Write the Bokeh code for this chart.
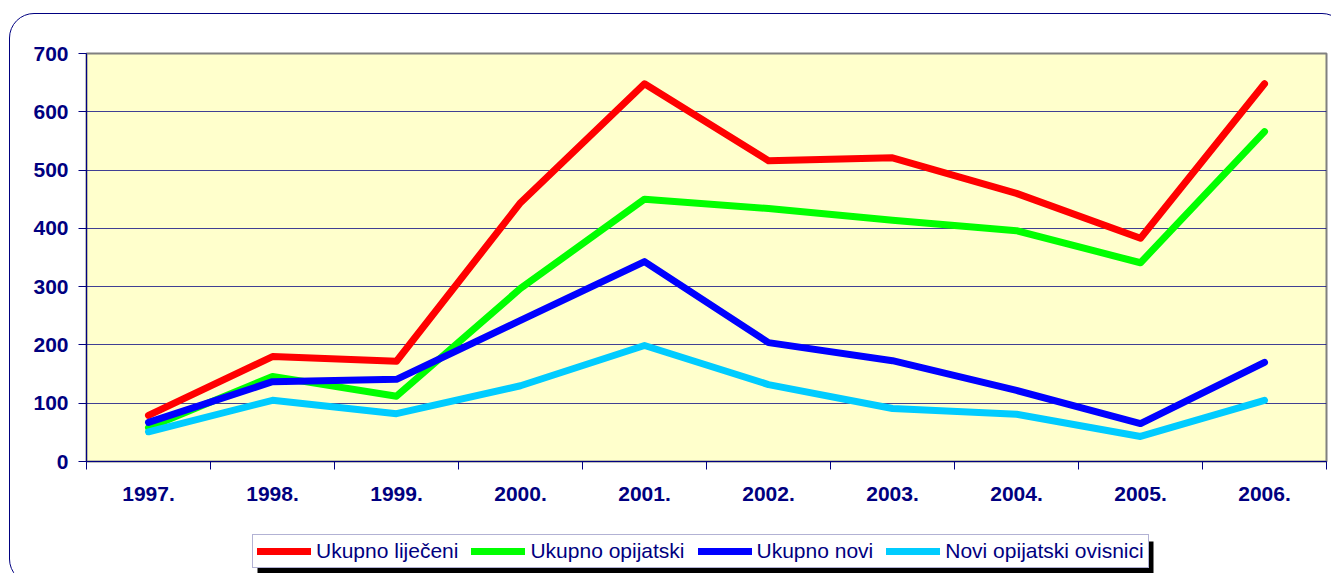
from bokeh.plotting import figure
from bokeh.models import (Range1d, FixedTicker, SingleIntervalTicker, Legend, LegendItem,
                          BoxAnnotation, ColumnDataSource, InlineStyleSheet)
from bokeh.layouts import column
from bokeh.embed import file_html
from bokeh.resources import INLINE

categories = ["1997.", "1998.", "1999.", "2000.", "2001.", "2002.", "2003.", "2004.", "2005.", "2006."]
ukupno_lijeceni = [79, 180, 172, 444, 648, 516, 521, 460, 383, 648]
ukupno_opijatski = [58, 146, 112, 297, 450, 434, 414, 396, 341, 566]
ukupno_novi = [67, 137, 141, 242, 343, 204, 173, 122, 65, 170]
novi_opijatski = [51, 105, 82, 130, 199, 132, 91, 81, 43, 105]

series = [
    ("Ukupno liječeni", ukupno_lijeceni, "#FF0000"),
    ("Ukupno opijatski", ukupno_opijatski, "#00FF00"),
    ("Ukupno novi", ukupno_novi, "#0000FF"),
    ("Novi opijatski ovisnici", novi_opijatski, "#00CCFF"),
]

NAVY = "#000080"
FONT = "Liberation Sans"
W = 1331
H_TOP = 522
H_BOT = 51
LINE_W = 7
FRAME_L, FRAME_R = 86, 1326

xs = [i + 0.5 for i in range(len(categories))]

p = figure(width=W, height=H_TOP, output_backend="svg", toolbar_location=None,
           x_range=Range1d(0, len(categories)), y_range=Range1d(0, 700),
           min_border_left=FRAME_L, min_border_right=W - FRAME_R,
           min_border_top=53, min_border_bottom=61)
p.background_fill_color = "#FFFFCC"
p.border_fill_color = "white"
p.outline_line_color = "#808080"
p.outline_line_width = 2

xa = p.xaxis[0]
xa.ticker = FixedTicker(ticks=xs, minor_ticks=list(range(len(categories) + 1)))
xa.major_label_overrides = {x: c for x, c in zip(xs, categories)}
xa.major_tick_out = 0
xa.major_tick_in = 0
xa.minor_tick_out = 8
xa.minor_tick_in = 0
xa.minor_tick_line_color = NAVY
xa.axis_line_color = NAVY
xa.major_label_text_color = NAVY
xa.major_label_text_font = FONT
xa.major_label_text_font_style = "bold"
xa.major_label_text_font_size = "21px"
xa.major_label_standoff = 17

ya = p.yaxis[0]
ya.ticker = SingleIntervalTicker(interval=100)
ya.major_tick_out = 8
ya.major_tick_in = 0
ya.minor_tick_out = 0
ya.minor_tick_in = 0
ya.major_tick_line_color = NAVY
ya.axis_line_color = NAVY
ya.major_label_text_color = NAVY
ya.major_label_text_font = FONT
ya.major_label_text_font_style = "bold"
ya.major_label_text_font_size = "21px"
ya.major_label_standoff = 10

p.xgrid.visible = False
p.ygrid.grid_line_color = NAVY
p.ygrid.grid_line_alpha = 0.75
p.ygrid.grid_line_width = 1
p.ygrid.ticker = SingleIntervalTicker(interval=100)

for name, vals, color in series:
    src = ColumnDataSource(dict(x=xs, y=vals))
    p.line("x", "y", source=src, line_color=color, line_width=LINE_W,
           line_cap="round", line_join="round")

# legend strip: its frame is aligned with the chart frame (x: 86..1326 px),
# ranges chosen so 1 data unit = 1 page pixel
q = figure(width=W, height=H_BOT, output_backend="svg", toolbar_location=None,
           x_range=Range1d(FRAME_L, FRAME_R), y_range=Range1d(H_TOP + H_BOT, H_TOP),
           x_axis_location=None, y_axis_location=None,
           min_border_left=0, min_border_right=0, min_border_top=0, min_border_bottom=0)
q.grid.visible = False
q.outline_line_color = None
q.background_fill_color = "white"
q.border_fill_color = "white"

LEG_LEFT = 252
LEG_BOTTOM_GAP = 5
PAD = 4
GLYPH_W = 54
STANDOFF = 5
SPACING = 13
LEG_W_EST = 896
LEG_H_EST = 33
SHADOW_DX = 5
SHADOW_DY = 6

leg_bottom = H_TOP + H_BOT - LEG_BOTTOM_GAP
shadow = BoxAnnotation(left=LEG_LEFT + SHADOW_DX, right=LEG_LEFT + LEG_W_EST + SHADOW_DX,
                       top=leg_bottom - LEG_H_EST + SHADOW_DY, bottom=leg_bottom + SHADOW_DY,
                       fill_color="black", fill_alpha=1, line_color=None)
q.add_layout(shadow)

items = []
for name, vals, color in series:
    r = q.line(x=xs, y=vals, line_color=color, line_width=LINE_W, line_cap="round",
               visible=False)
    items.append(LegendItem(label=name, renderers=[r]))

legend = Legend(items=items, orientation="horizontal",
                location=(LEG_LEFT - FRAME_L, LEG_BOTTOM_GAP),
                glyph_width=GLYPH_W, glyph_height=20, label_standoff=STANDOFF, spacing=SPACING,
                padding=PAD, margin=0,
                label_text_font=FONT, label_text_font_size="21px", label_text_color=NAVY,
                border_line_color="#6666AA", border_line_width=1.5,
                background_fill_color="white", background_fill_alpha=1)
q.add_layout(legend, "center")

css = InlineStyleSheet(css="""
:host { position: relative; overflow: hidden; }
:host::after {
  content: ""; position: absolute; left: 9px; top: 13px;
  width: 1338px; height: 571px; box-sizing: border-box;
  border: 1.5px solid #000080; border-radius: 25px;
  pointer-events: none; z-index: 100; background: transparent;
}
""")

layout = column(p, q, spacing=0, stylesheets=[css])

open("out.html", "w").write(file_html(layout, INLINE))
